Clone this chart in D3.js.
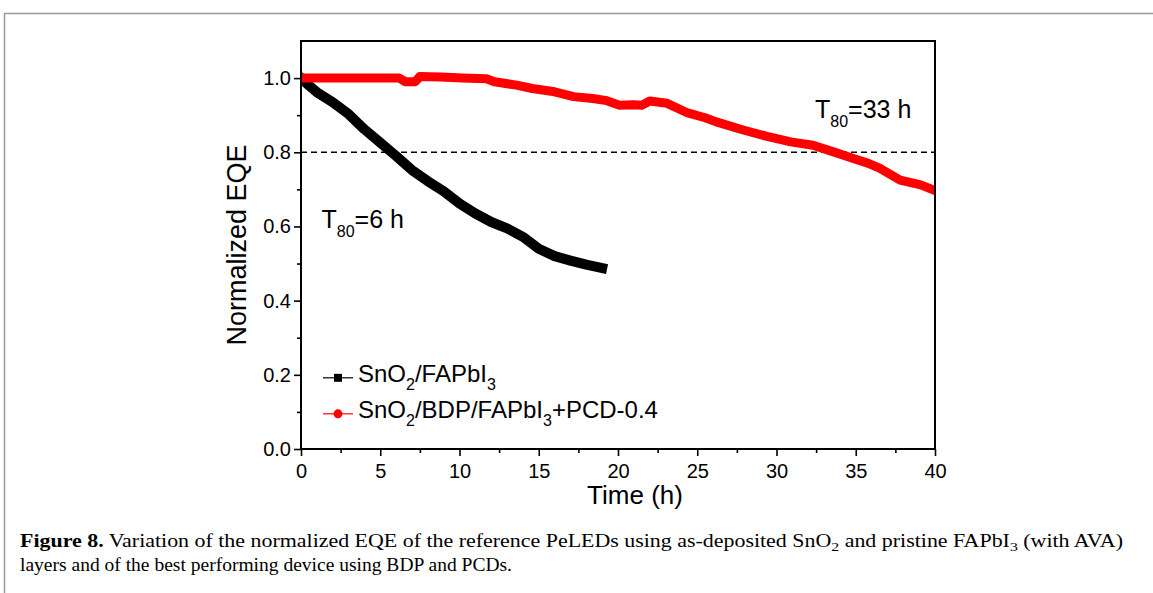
<!DOCTYPE html>
<html>
<head>
<meta charset="utf-8">
<script src="https://cdn.jsdelivr.net/npm/d3@7"></script>
<style>
  body { margin: 0; background: #fff; }
  svg { display: block; }
  .tick text { font-family: "Liberation Sans", Arial, sans-serif; font-size: 20px; fill: #000; }
</style>
</head>
<body>
<div id="chart"></div>
<script>
const blackTime = [0, 0.5, 1, 2, 3, 4, 5, 6, 7, 8, 9, 10, 11, 12, 13, 14, 15, 16, 17, 18, 19];
const blackEQE  = [1.0, 0.98, 0.962, 0.935, 0.903, 0.862, 0.826, 0.79, 0.752, 0.722, 0.695, 0.662, 0.635, 0.612, 0.595, 0.572, 0.54, 0.52, 0.508, 0.497, 0.488];

const redTime = [0, 2, 4, 6.2, 6.6, 7.2, 7.5, 8.8, 10.2, 11.7, 12.2, 13.6, 14.6, 16, 17.2, 18.4, 19.2, 20.1, 21, 21.5, 22, 23.1, 24.4, 25.5, 26.2, 27.9, 29.4, 30.9, 32.3, 33.6, 34.8, 35.8, 36.5, 37.8, 39.1, 40];
const redEQE  = [1, 1, 1, 1, 0.99, 0.99, 1.004, 1.003, 1.0, 0.998, 0.99, 0.981, 0.972, 0.963, 0.95, 0.945, 0.94, 0.927, 0.928, 0.927, 0.938, 0.932, 0.906, 0.893, 0.882, 0.86, 0.843, 0.828, 0.819, 0.801, 0.784, 0.77, 0.757, 0.725, 0.712, 0.697];

const xMajor = [0, 5, 10, 15, 20, 25, 30, 35, 40];
const xMinor = [2.5, 7.5, 12.5, 17.5, 22.5, 27.5, 32.5, 37.5];
const yMajor = [0, 0.2, 0.4, 0.6, 0.8, 1.0];
const yMinor = [0.1, 0.3, 0.5, 0.7, 0.9];
const t80Level = 0.8;

const W = 1153, H = 593;
const margin = { top: 41, right: 218, bottom: 144, left: 301 };
const innerW = W - margin.left - margin.right;
const innerH = H - margin.top - margin.bottom;
const sans = "'Liberation Sans', Arial, sans-serif";
const serif = "'Liberation Serif', 'Times New Roman', serif";

const root = d3.select("#chart").append("svg")
    .attr("width", W)
    .attr("height", H);

// page frame (gray rule on top and left)
root.append("path")
    .attr("d", `M4.5,${H} V13.5 H${W}`)
    .attr("fill", "none")
    .attr("stroke", "#9a9a9a")
    .attr("stroke-width", 1.5);

const svg = root.append("g")
    .attr("transform", `translate(${margin.left},${margin.top})`);

const x = d3.scaleLinear([0, 40], [0, innerW]);
const y = d3.scaleLinear([0, 1.1], [innerH, 0]);

svg.append("clipPath")
    .attr("id", "plotclip")
  .append("rect")
    .attr("width", innerW)
    .attr("height", innerH);

// axes
svg.append("g")
    .attr("class", "x axis")
    .attr("transform", `translate(0,${innerH})`)
    .call(d3.axisBottom(x).tickValues(xMajor).tickSize(7).tickPadding(8).tickFormat(d3.format("d")));
svg.append("g")
    .attr("transform", `translate(0,${innerH})`)
    .call(d3.axisBottom(x).tickValues(xMinor).tickSize(4).tickFormat(""));

svg.append("g")
    .attr("class", "y axis")
    .call(d3.axisLeft(y).tickValues(yMajor).tickSize(7).tickPadding(3).tickFormat(d3.format(".1f")));
svg.append("g")
    .call(d3.axisLeft(y).tickValues(yMinor).tickSize(4).tickFormat(""));

svg.selectAll(".domain").remove();
svg.selectAll(".tick line").attr("stroke", "#000").attr("stroke-width", 1.6);

// dashed T80 reference
svg.append("line")
    .attr("x1", 0)
    .attr("x2", innerW)
    .attr("y1", y(t80Level))
    .attr("y2", y(t80Level))
    .attr("stroke", "#000")
    .attr("stroke-width", 1.4)
    .attr("stroke-dasharray", "6,4");

// data bands
const line = d3.line()
    .x(d => x(d[0]))
    .y(d => y(d[1]));

const series = [
    { name: "black", color: "#000", pts: d3.zip(blackTime, blackEQE), cap: "square", w: 10 },
    { name: "red", color: "#ff0000", pts: d3.zip(redTime, redEQE), cap: "round", w: 9 }
];

svg.append("g")
    .attr("clip-path", "url(#plotclip)")
  .selectAll("path")
  .data(series)
  .join("path")
    .attr("fill", "none")
    .attr("stroke", d => d.color)
    .attr("stroke-width", d => d.w)
    .attr("stroke-linejoin", "round")
    .attr("stroke-linecap", d => d.cap)
    .attr("d", d => line(d.pts));

// frame
svg.append("rect")
    .attr("width", innerW)
    .attr("height", innerH)
    .attr("fill", "none")
    .attr("stroke", "#000")
    .attr("stroke-width", 2);

// axis titles
svg.append("text")
    .attr("x", x(20) + 17)
    .attr("y", innerH + 55)
    .attr("text-anchor", "middle")
    .attr("font-family", sans)
    .attr("font-size", 26)
    .text("Time (h)");

svg.append("text")
    .attr("transform", `translate(-55,${innerH / 2}) rotate(-90)`)
    .attr("text-anchor", "middle")
    .attr("font-family", sans)
    .attr("font-size", 27)
    .text("Normalized EQE");

// T80 annotations
function t80Label(px, py, value) {
    const t = svg.append("text")
        .attr("x", px)
        .attr("y", py)
        .attr("font-family", sans)
        .attr("font-size", 25);
    t.append("tspan").text("T");
    t.append("tspan").attr("dy", 9).attr("font-size", 16).text("80");
    t.append("tspan").attr("dy", -9).text(`=${value} h`);
}
t80Label(20.5, 187, 6);
t80Label(514, 77, 33);

// legend
const legendItems = [
    { color: "#000", shape: "square", parts: [["SnO", 0], ["2", 1], ["/FAPbI", 0], ["3", 1]] },
    { color: "#ff0000", shape: "circle", parts: [["SnO", 0], ["2", 1], ["/BDP/FAPbI", 0], ["3", 1], ["+PCD-0.4", 0]] }
];

const legend = svg.append("g")
    .attr("transform", `translate(22,${y(0.2) + 3})`);

const item = legend.selectAll("g")
    .data(legendItems)
    .join("g")
    .attr("transform", (d, i) => `translate(0,${i * 36})`);

item.append("line")
    .attr("x1", 0)
    .attr("x2", 30)
    .attr("stroke", d => d.color)
    .attr("stroke-width", 1.2);

item.filter(d => d.shape === "square").append("rect")
    .attr("x", 11)
    .attr("y", -4)
    .attr("width", 8)
    .attr("height", 8)
    .attr("fill", d => d.color);

item.filter(d => d.shape === "circle").append("circle")
    .attr("cx", 15)
    .attr("r", 4.5)
    .attr("fill", d => d.color);

item.append("text")
    .attr("x", 35)
    .attr("y", 4)
    .attr("font-family", sans)
    .attr("font-size", 24)
    .each(function (d) {
        const t = d3.select(this);
        let prevSub = 0;
        d.parts.forEach(([s, sub]) => {
            t.append("tspan")
                .attr("dy", (sub - prevSub) * 8)
                .attr("font-size", sub ? 16 : 24)
                .text(s);
            prevSub = sub;
        });
    });

// caption
const captionLines = [
    { y: 547, width: 1103, parts: [["Figure 8.", "b", 0], [" Variation of the normalized EQE of the reference PeLEDs using as-deposited SnO", "", 0], ["2", "", 1], [" and pristine FAPbI", "", 0], ["3", "", 1], [" (with AVA)", "", 0]] },
    { y: 571, width: 492, parts: [["layers and of the best performing device using BDP and PCDs.", "", 0]] }
];

root.selectAll(".caption")
    .data(captionLines)
    .join("text")
    .attr("class", "caption")
    .attr("x", 20)
    .attr("y", d => d.y)
    .attr("font-family", serif)
    .attr("font-size", 18)
    .attr("textLength", d => d.width)
    .attr("lengthAdjust", "spacingAndGlyphs")
    .each(function (d) {
        const t = d3.select(this);
        let prevSub = 0;
        d.parts.forEach(([s, w, sub]) => {
            t.append("tspan")
                .attr("dy", (sub - prevSub) * 4)
                .attr("font-size", sub ? 13 : 18)
                .attr("font-weight", w === "b" ? "bold" : null)
                .text(s);
            prevSub = sub;
        });
    });
</script>
</body>
</html>
